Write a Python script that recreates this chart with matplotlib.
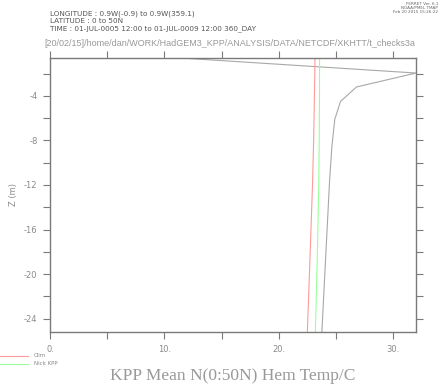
import matplotlib
matplotlib.use("Agg")
import matplotlib.pyplot as plt
import numpy as np

# Data
gray_temp = [0.0, 32.0, 26.8, 25.4, 24.9, 24.65, 24.45, 23.77]
gray_depth = [0.15, -1.95, -3.2, -4.5, -6.1, -8.5, -11.5, -25.2]
clim_temp = [23.17, 23.12, 23.05, 22.95, 22.75, 22.5]
clim_depth = [-0.6, -4.0, -8.0, -12.0, -18.0, -25.2]
kpp_temp = [23.57, 23.56, 23.54, 23.5, 23.38, 23.2]
kpp_depth = [-0.6, -4.0, -8.0, -12.0, -18.0, -25.2]
xticks_major = [0, 10, 20, 30]
xtick_labels = ["0.", "10.", "20.", "30."]
yticks_major = [-4, -8, -12, -16, -20, -24]

W, H = 440, 384
fig = plt.figure(figsize=(W/100, H/100), dpi=100)
ax = fig.add_axes([50/W, 1-332/H, (416-50)/W, (332-58)/H])

axc = "#7a7a7a"
txt = "#8a8a8a"
ax.plot(gray_temp, gray_depth, color="#a8a8a8", lw=0.8)
ax.plot(clim_temp, clim_depth, color="#ff9a9a", lw=0.8)
ax.plot(kpp_temp, kpp_depth, color="#9aff9a", lw=0.8)

ax.set_xlim(0, 32.0)
ax.set_ylim(-25.2, -0.6)
ax.set_xticks(xticks_major)
ax.set_xticklabels(xtick_labels)
ax.set_xticks(np.arange(5, 32, 10), minor=True)
ax.set_yticks(yticks_major)
ax.set_yticklabels([str(v) for v in yticks_major])
ax.set_yticks(np.arange(-22, -1, 4), minor=True)
for s in ax.spines.values():
    s.set_color(axc)
    s.set_linewidth(1.0)
ax.tick_params(which="both", direction="out", length=5, width=0.8, color=axc,
               labelcolor=txt, labelsize=6, top=True, right=True,
               labeltop=False, labelright=False, pad=4)
ax.set_ylabel("Z (m)", color=txt, fontsize=6)
ax.yaxis.set_label_coords((18 - 50)/366, 0.5)

# headers
hdr = dict(fontsize=5.2, color="#555555", va="center")
fig.text(50/W, 1-13.5/H, "LONGITUDE : 0.9W(-0.9) to 0.9W(359.1)", **hdr)
fig.text(50/W, 1-21/H, "LATITUDE : 0 to 50N", **hdr)
fig.text(50/W, 1-28.5/H, "TIME : 01-JUL-0005 12:00 to 01-JUL-0009 12:00 360_DAY", **hdr)
fig.text(44/W, 1-43/H, "[20/02/15]/home/dan/WORK/HadGEM3_KPP/ANALYSIS/DATA/NETCDF/XKHTT/t_checks3a",
         fontsize=6.5, color="#999999", va="center", family="Liberation Sans")
fig.text(438/W, 1-2/H, "FERRET Ver. 6.1\nNOAA/PMEL TMAP\nFeb 20 2015 15:26:22", fontsize=3,
         color="#666666", va="top", ha="right", linespacing=1.0)

# legend
fig.lines.append(plt.Line2D([0, 28/W], [1-355.5/H]*2, color="#ff9a9a", lw=0.8, transform=fig.transFigure))
fig.lines.append(plt.Line2D([0, 28/W], [1-363.5/H]*2, color="#9aff9a", lw=0.8, transform=fig.transFigure))
fig.text(34/W, 1-355.5/H, "Clim", fontsize=4, color="#888888", va="center")
fig.text(34/W, 1-363.5/H, "Nick KPP", fontsize=4, color="#888888", va="center")

fig.text(233/W, 1-376/H, "KPP Mean N(0:50N) Hem Temp/C", fontsize=12.5, color="#999999",
         ha="center", va="center", family="Liberation Serif")

fig.savefig("out.png", dpi=100)
